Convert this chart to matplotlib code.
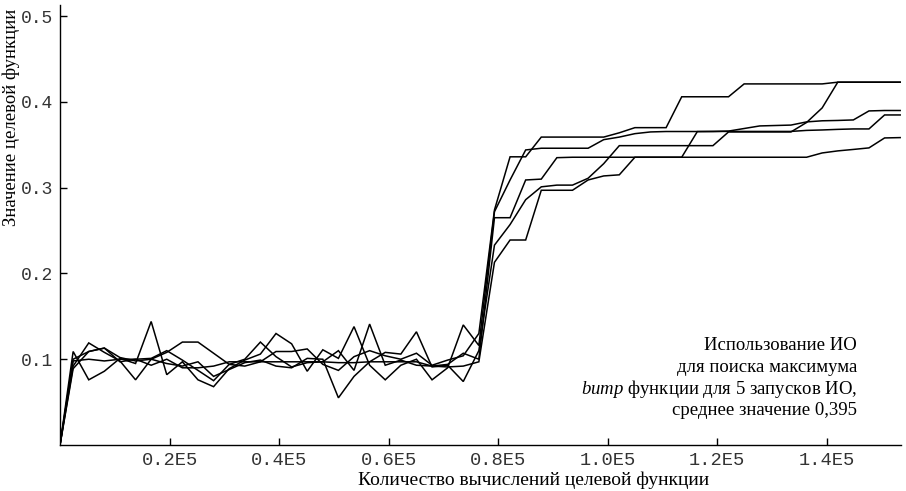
import matplotlib
matplotlib.use("Agg")
import matplotlib.pyplot as plt

# number of objective function evaluations (x grid)
evals = [0, 2400, 5250, 8100, 10950, 13800, 16650, 19500, 22350, 25200, 28050,
         30900, 33750, 36600, 39450, 42300, 45150, 48000, 50850, 53700, 56550,
         59400, 62250, 65100, 67950, 70800, 73650, 76500, 79350, 82200, 85050,
         87900, 90750, 93600, 96450, 99300, 102150, 105000, 107850, 110700, 113550,
         116400, 119250, 122100, 124950, 127800, 130650, 133500, 136350, 139200,
         142050, 144900, 147750, 150600, 153450]

run1 = [0, 0.100, 0.109, 0.113, 0.102, 0.098, 0.100, 0.108, 0.120, 0.120, 0.107,
        0.094, 0.092, 0.097, 0.109, 0.109, 0.112, 0.094, 0.087, 0.103, 0.110,
        0.104, 0.100, 0.107, 0.093, 0.099, 0.104, 0.130,
        0.274, 0.336, 0.336, 0.359, 0.359, 0.359, 0.359, 0.359, 0.364, 0.370,
        0.370, 0.370, 0.406, 0.406, 0.406, 0.406, 0.421, 0.421, 0.421, 0.421,
        0.421, 0.421, 0.423, 0.423, 0.423, 0.423, 0.423]
run2 = [0, 0.092, 0.119, 0.108, 0.098, 0.076, 0.100, 0.095, 0.092, 0.097, 0.080,
        0.088, 0.096, 0.099, 0.092, 0.090, 0.101, 0.100, 0.055, 0.080, 0.097,
        0.108, 0.106, 0.132, 0.091, 0.093, 0.074, 0.110,
        0.233, 0.257, 0.286, 0.301, 0.303, 0.303, 0.311, 0.328, 0.349, 0.349,
        0.349, 0.349, 0.349, 0.349, 0.349, 0.365, 0.365, 0.365, 0.365, 0.365,
        0.376, 0.393, 0.423, 0.423, 0.423, 0.423, 0.423]
run3 = [0, 0.109, 0.076, 0.086, 0.101, 0.095, 0.144, 0.082, 0.097, 0.076, 0.068,
        0.089, 0.099, 0.106, 0.130, 0.118, 0.086, 0.111, 0.101, 0.138, 0.093,
        0.076, 0.093, 0.100, 0.076, 0.090, 0.140, 0.116,
        0.272, 0.309, 0.344, 0.346, 0.346, 0.346, 0.346, 0.356, 0.359, 0.363,
        0.365, 0.3655, 0.3655, 0.3655, 0.3655, 0.366, 0.369, 0.372, 0.3725,
        0.373, 0.3767, 0.378, 0.3784, 0.379, 0.3895, 0.390, 0.390]
run4 = [0, 0.089, 0.109, 0.113, 0.097, 0.100, 0.101, 0.110, 0.099, 0.087, 0.075,
        0.094, 0.100, 0.120, 0.103, 0.091, 0.096, 0.097, 0.110, 0.087, 0.141,
        0.093, 0.099, 0.093, 0.092, 0.094, 0.107, 0.100,
        0.265, 0.265, 0.309, 0.310, 0.335, 0.3355, 0.3355, 0.3355, 0.3355,
        0.3355, 0.3355, 0.3355, 0.3355, 0.3654, 0.3656, 0.3656, 0.3656, 0.3656,
        0.3656, 0.3656, 0.3668, 0.3673, 0.368, 0.3685, 0.3685, 0.3848, 0.3848]
run5 = [0, 0.098, 0.100, 0.098, 0.100, 0.100, 0.093, 0.100, 0.090, 0.090, 0.092,
        0.097, 0.097, 0.097, 0.097, 0.097, 0.097, 0.097, 0.096, 0.096, 0.097,
        0.097, 0.097, 0.097, 0.092, 0.091, 0.092, 0.097,
        0.213, 0.239, 0.239, 0.297, 0.297, 0.297, 0.309, 0.3137, 0.315, 0.3355,
        0.3355, 0.3355, 0.3355, 0.3355, 0.3355, 0.3355, 0.3355, 0.3355, 0.3355,
        0.3355, 0.3355, 0.3405, 0.3429, 0.3446, 0.3464, 0.358, 0.3584]
runs = [run1, run2, run3, run4, run5]

xticks = [20000, 40000, 60000, 80000, 100000, 120000, 140000]
xticklabels = ["0.2E5", "0.4E5", "0.6E5", "0.8E5", "1.0E5", "1.2E5", "1.4E5"]
yticks = [0.1, 0.2, 0.3, 0.4, 0.5]
yticklabels = ["0.1", "0.2", "0.3", "0.4", "0.5"]

xlabel = "Количество вычислений целевой функции"
ylabel = "Значение целевой функции"
note_lines = ["Использование ИО", "для поиска максимума",
              r"$\mathit{bump}$ функции для 5 запусков ИО,",
              "среднее значение 0,395"]

plt.rcParams['mathtext.fontset'] = 'custom'
plt.rcParams['mathtext.it'] = 'Liberation Serif:italic'
plt.rcParams['mathtext.rm'] = 'Liberation Serif'

fig = plt.figure(figsize=(9.06, 4.91), dpi=100)
ax = fig.add_axes([60/906, 46/491, 841/906, 440/491])

for r in runs:
    ax.plot(evals, r, color='black', lw=1.1, solid_joinstyle='miter')

ax.set_xlim(0, 153600)
ax.set_ylim(0, 0.513)
ax.spines['top'].set_visible(False)
ax.spines['right'].set_visible(False)
for s in ('left', 'bottom'):
    ax.spines[s].set_linewidth(1.0)
ax.set_xticks(xticks)
ax.set_xticklabels(xticklabels)
ax.set_yticks(yticks)
ax.set_yticklabels(yticklabels)
ax.tick_params(direction='in', length=5, width=1.0, pad=5, labelcolor='#333333')
for lab in ax.get_xticklabels():
    lab.set_fontfamily('Liberation Mono')
    lab.set_fontsize(13.5)
for lab in ax.get_yticklabels():
    lab.set_fontfamily('Liberation Mono')
    lab.set_fontsize(13)

fig.text(534/906, 1 - 480/491, xlabel, ha='center', va='center',
         family='Liberation Serif', fontsize=14)
fig.text(11/906, 1 - 117/491, ylabel, ha='center', va='center', rotation=90,
         family='Liberation Serif', fontsize=13.5)

for k, line in enumerate(note_lines):
    fig.text(857/906, 1 - (346 + k*21.5)/491, line, ha='right', va='center',
             family='Liberation Serif', fontsize=13.5)

fig.savefig("out.png", dpi=100)
